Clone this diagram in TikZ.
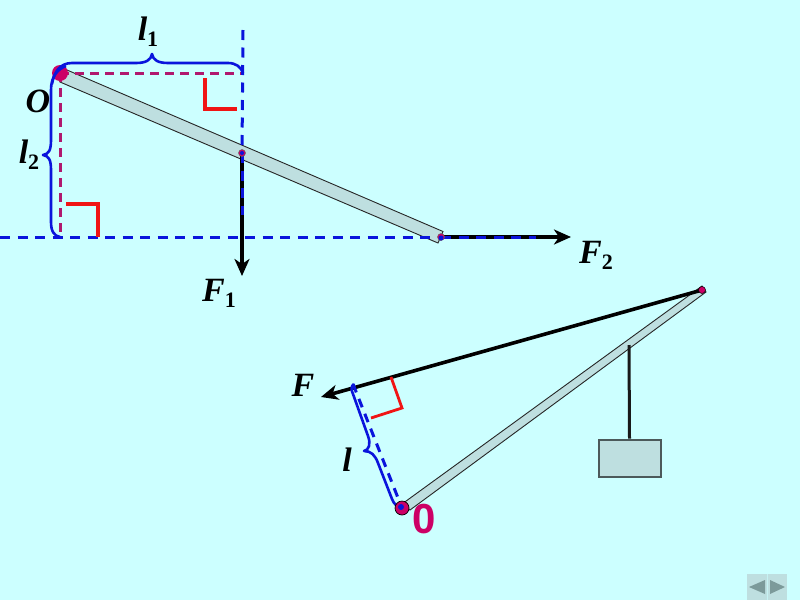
\documentclass[tikz,border=0pt]{standalone}
\usepackage{fontspec}
\setmainfont{Liberation Serif}
\newfontfamily\zerofont{Liberation Sans}
\usetikzlibrary{arrows.meta}
\definecolor{bgc}{HTML}{CCFFFF}
\definecolor{barc}{HTML}{BEDFE0}
\definecolor{mag}{HTML}{CC0066}
\definecolor{dmag}{HTML}{B0186E}
\definecolor{bl}{HTML}{0A14DC}
\definecolor{rd}{HTML}{F01414}
\definecolor{navc}{HTML}{7C9A9A}
\tikzset{
  x=1pt,y=-1pt,
  bar/.style={fill=barc,draw=black!85,line width=0.9pt},
  bluedash/.style={draw=bl,line width=3pt,dash pattern=on 10pt off 7.5pt},
  magdash/.style={draw=dmag,line width=3pt,dash pattern=on 9pt off 6pt},
  bracec/.style={draw=bl,line width=2.6pt,line join=round},
  rightang/.style={draw=rd,line width=2.8pt},
  squareang/.style={draw=rd,line width=3.4pt},
  force/.style={draw=black,line width=3.2pt,-{Stealth[length=17pt,width=15pt,inset=5pt]}},
  lab/.style={inner sep=0pt,font=\fontsize{34}{34}\selectfont\bfseries\itshape},
  pivot/.style={circle,fill=mag,minimum size=14pt,inner sep=0pt,draw=black!70,line width=0.7pt},
  pin/.style={circle,fill=mag,minimum size=7pt,inner sep=0pt,draw=black!60,line width=0.5pt},
  inner/.style={circle,fill=bl,minimum size=5pt,inner sep=0pt},
}
\newcommand{\sbs}[1]{\raisebox{-6pt}{\fontsize{22}{22}\selectfont\bfseries\upshape #1}}
\begin{document}
\begin{tikzpicture}
\useasboundingbox (0,0) rectangle (800,600);
\fill[bgc] (0,0) rectangle (800,600);
% named points, first figure
\coordinate (O) at (60,73);
\coordinate (mid) at (242,153);
\coordinate (end) at (441,237);
\coordinate (top) at (243,30);
\coordinate (corner1) at (243,73);
\coordinate (foot) at (60,237);
\coordinate (left) at (0,237);
\coordinate (F1e) at (242,276);
\coordinate (F2e) at (571,237);
\coordinate (b1e) at (242,215);
\coordinate (b2e) at (536,237);
% bar
\draw[bar] (67,70) -- (443,231.5) -- (438,243) -- (60,82) -- cycle;
% forces
\draw[force] (mid) -- (F1e);
\draw[force] (end) -- (F2e);
% construction lines
\draw[magdash] (O) -- (corner1);
\draw[magdash] (O) -- (foot);
\draw[bluedash] (top) -- (mid);
\draw[bluedash] (mid) -- (b1e);
\draw[bluedash] (left) -- (end);
\draw[bluedash] (end) -- (b2e);
% right angles
\draw[squareang] (205,78) -- (205,109) -- (237,109);
\draw[squareang] (66,204) -- (98,204) -- (98,237);
% pivots
\node[pivot,draw=none,minimum size=16pt] (pO) at (O) {};
\node[pin] (pm) at (mid) {};
\node[inner,minimum size=4pt] at (mid) {};
\node[pin] (pe) at (end) {};
\node[inner] at (441,238) {};
% braces
\draw[bracec] (52,84) .. controls (54,72) and (60,63) .. (72,63) -- (136,63)
  .. controls (146,63) and (151,60) .. (152,54) .. controls (153,60) and (158,63) .. (168,63)
  -- (228,63) .. controls (236,63) and (241,67) .. (243,73);
\draw[bracec] (66,66) .. controls (58,69) and (51,76) .. (51,90) -- (51,140)
  .. controls (51,150) and (49,154) .. (43,155) .. controls (49,156) and (51,160) .. (51,170)
  -- (51,222) .. controls (51,231) and (54,236) .. (60,237);
% labels
\node[lab] (l1) at (148,32) {\textit{l}\sbs{1}};
\node[lab] (Olab) at (38,101) {O};
\node[lab] (l2) at (29,155) {\textit{l}\sbs{2}};
\node[lab] (F1) at (219,293) {F\sbs{1}};
\node[lab] (F2) at (596,255) {F\sbs{2}};
% second figure
\coordinate (P) at (402,508);
\coordinate (tip) at (702,290);
\coordinate (Fe) at (321,397);
\coordinate (perp) at (353,384);
\coordinate (hang) at (629,345);
\draw[bar] (402,504) -- (702,286) -- (706,292) -- (410,510) -- cycle;
\node[draw=black!60!barc,fill=barc,line width=2pt,minimum width=62pt,minimum height=37pt,inner sep=0pt] (box) at (629.5,458) {};
\draw[draw=black!90,line width=3pt] (hang) -- (box.north);
\draw[force,line width=3.6pt] (tip) -- (Fe);
\draw[bluedash,dash pattern=on 9pt off 7pt] (perp) -- (P);
\draw[rightang] (391,377) -- (402,408) -- (371,418);
\draw[bracec] (354,384) .. controls (351,386) and (351,390) .. (353,394) -- (368,436)
  .. controls (371,444) and (369,450) .. (364,451) .. controls (371,451) and (375,455) .. (378,463)
  -- (392,499) .. controls (394,504) and (397,507) .. (402,508);
\node[pivot,draw=black] (pP) at (P) {};
\node[inner,minimum size=6pt] at (401,507) {};
\node[pin,draw=black] (ptip) at (tip) {};
\node[lab] (Flab) at (303,385) {F};
\node[lab] (llab) at (347,460) {\textit{l}};
\node[inner sep=0pt,text=mag,font=\zerofont\bfseries\fontsize{42}{42}\selectfont] (zero) at (424,519) {0};
% navigation
\fill[barc] (747,574) rectangle (787,600);
\draw[bgc!60!barc,line width=0.5pt] (767,574) -- (767,600);
\fill[navc] (749,587) -- (765,580) -- (765,594) -- cycle;
\fill[navc] (770,580) -- (785,587) -- (770,594) -- cycle;
\end{tikzpicture}
\end{document}
